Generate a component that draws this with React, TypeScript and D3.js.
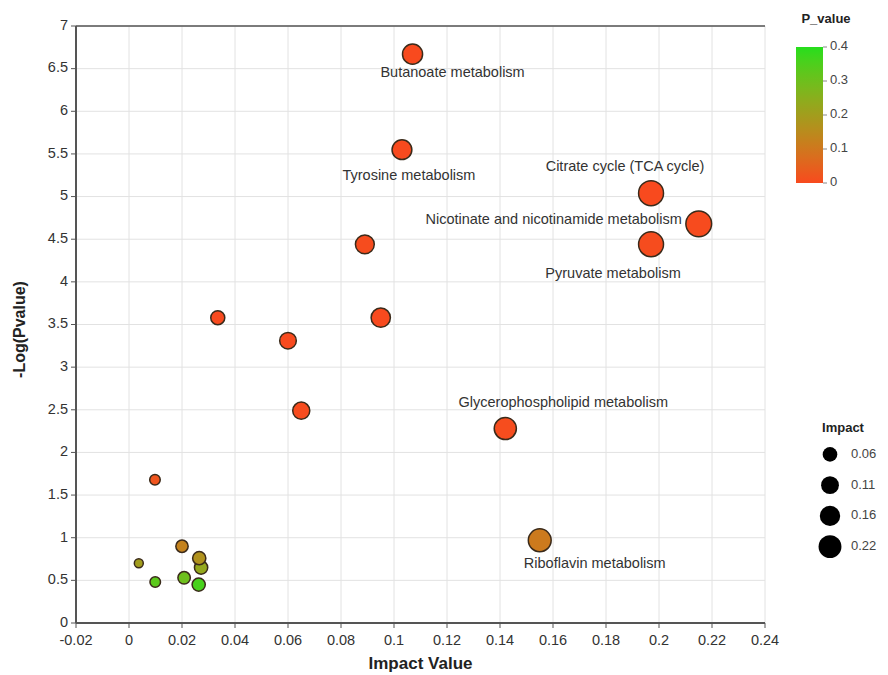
import * as d3 from 'd3';

// pathway labels (empty = unlabeled point)
const pathways = [
  'Butanoate metabolism',
  'Tyrosine metabolism',
  'Citrate cycle (TCA cycle)',
  'Nicotinate and nicotinamide metabolism',
  'Pyruvate metabolism',
  '', '', '', '', '',
  'Glycerophospholipid metabolism',
  'Riboflavin metabolism',
  '', '', '', '', '', '', '', ''
];
const impactValues = [
  0.107, 0.103, 0.197, 0.215, 0.197, 0.089, 0.095, 0.0335, 0.060, 0.065,
  0.142, 0.155, 0.0098, 0.0200, 0.0037, 0.0265, 0.0272, 0.0099, 0.0208, 0.0263
];
const negLogP = [
  6.67, 5.55, 5.04, 4.68, 4.44, 4.44, 3.58, 3.58, 3.31, 2.49,
  2.28, 0.97, 1.68, 0.90, 0.70, 0.76, 0.65, 0.48, 0.53, 0.45
];
const pValues = [
  0.0002, 0.0003, 0.0009, 0.002, 0.004, 0.004, 0.0003, 0.0003, 0.0005, 0.003,
  0.005, 0.107, 0.021, 0.126, 0.20, 0.17, 0.23, 0.33, 0.30, 0.36
];
// label placement relative to its point (style only)
const labelOffsets: Record<string, [number, number, string]> = {
  'Butanoate metabolism': [40, 19, 'middle'],
  'Tyrosine metabolism': [7, 27, 'middle'],
  'Citrate cycle (TCA cycle)': [-26, -26, 'middle'],
  'Nicotinate and nicotinamide metabolism': [-17, -4, 'end'],
  'Pyruvate metabolism': [-38, 30, 'middle'],
  'Glycerophospholipid metabolism': [58, -25, 'middle'],
  'Riboflavin metabolism': [55, 24, 'middle'],
};

const xTicks = d3.range(-0.02, 0.2401, 0.02).map(v => +v.toFixed(2));
const yTicks = d3.range(0, 7.01, 0.5).map(v => +v.toFixed(1));
const pTicks = [0, 0.1, 0.2, 0.3, 0.4];
const impactLegend = [0.06, 0.11, 0.16, 0.22];

const FONT = '"Liberation Sans", Arial, sans-serif';

export default function App() {
  const margin = { left: 76, top: 26, right: 765, bottom: 623 };

  const x = d3.scaleLinear().domain([-0.02, 0.24]).range([margin.left, margin.right]);
  const y = d3.scaleLinear().domain([0, 7]).range([margin.bottom, margin.top]);
  const r = d3.scaleSqrt().domain([0, 0.22]).range([3.2, 13]);
  const color = d3.scaleLinear<string>()
    .domain([0, 0.4])
    .range(['#f84a1e', '#26de1c'])
    .interpolate(d3.interpolateRgb.gamma(1.5))
    .clamp(true);

  const points = impactValues.map((v, i) => ({
    name: pathways[i], x: v, y: negLogP[i], p: pValues[i],
  }));
  // larger circles behind smaller
  const ordered = [...points].sort((a, b) => b.x - a.x);

  // colour bar
  const cb = { x: 796, w: 27, top: 47, bottom: 183 };
  const pScale = d3.scaleLinear().domain([0, 0.4]).range([cb.bottom, cb.top]);
  const stops = d3.range(0, 1.0001, 0.1);

  const legY = d3.scaleBand<number>().domain(impactLegend).range([439, 562]);

  return (
    <svg width={888} height={675} style={{ position: 'absolute', left: 0, top: 0, background: '#fff' }} fontFamily={FONT}>
      <defs>
        <linearGradient id="pgrad" x1="0" y1="1" x2="0" y2="0">
          {stops.map(s => (
            <stop key={s} offset={s} stopColor={color(s * 0.4)} />
          ))}
        </linearGradient>
      </defs>

      {/* grid */}
      {xTicks.map(t => (
        <line key={'gx' + t} x1={x(t)} x2={x(t)} y1={margin.top} y2={margin.bottom} stroke="#e2e2e2" strokeWidth={1} />
      ))}
      {yTicks.map(t => (
        <line key={'gy' + t} x1={margin.left} x2={margin.right} y1={y(t)} y2={y(t)} stroke="#e2e2e2" strokeWidth={1} />
      ))}
      <line x1={margin.left} x2={margin.right} y1={margin.top} y2={margin.top} stroke="#555" strokeWidth={1.5} />

      {/* axes */}
      <line x1={margin.left} x2={margin.left} y1={margin.top} y2={margin.bottom} stroke="#555" strokeWidth={2} />
      <line x1={margin.left} x2={margin.right} y1={margin.bottom} y2={margin.bottom} stroke="#555" strokeWidth={2} />
      {xTicks.map(t => (
        <g key={'xt' + t}>
          <line x1={x(t)} x2={x(t)} y1={margin.bottom} y2={margin.bottom + 5} stroke="#555" />
          <text x={x(t)} y={margin.bottom + 22} textAnchor="middle" fontSize={14.5} fill="#333">{t}</text>
        </g>
      ))}
      {yTicks.map(t => (
        <g key={'yt' + t}>
          <line x1={margin.left - 5} x2={margin.left} y1={y(t)} y2={y(t)} stroke="#555" />
          <text x={margin.left - 8} y={y(t)} textAnchor="end" dominantBaseline="middle" fontSize={14.5} fill="#333">{t}</text>
        </g>
      ))}
      <text x={(margin.left + margin.right) / 2} y={669} textAnchor="middle" fontSize={17} fontWeight="bold" fill="#222">Impact Value</text>
      <text transform={`translate(25,${(margin.top + margin.bottom) / 2 + 5}) rotate(-90)`} textAnchor="middle" fontSize={16} fontWeight="bold" fill="#222">-Log(Pvalue)</text>

      {/* points */}
      {ordered.map((d, i) => (
        <circle key={'pt' + i} cx={x(d.x)} cy={y(d.y)} r={r(d.x)} fill={color(d.p)} stroke="#3a2a1a" strokeWidth={1.5} />
      ))}
      {points.filter(d => d.name).map(d => {
        const [dx, dy, anchor] = labelOffsets[d.name];
        return (
          <text key={d.name} x={x(d.x) + dx} y={y(d.y) + dy} textAnchor={anchor as any} dominantBaseline="middle" fontSize={14.5} fill="#333">{d.name}</text>
        );
      })}

      {/* P_value colour legend */}
      <text x={cb.x + 30} y={23} textAnchor="middle" fontSize={13} fontWeight="bold" fill="#222">P_value</text>
      <rect x={cb.x} y={cb.top} width={cb.w} height={cb.bottom - cb.top} fill="url(#pgrad)" />
      {pTicks.map(t => (
        <g key={'pt' + t}>
          <line x1={cb.x + cb.w} x2={cb.x + cb.w + 4} y1={pScale(t)} y2={pScale(t)} stroke="#888" />
          <text x={cb.x + cb.w + 7} y={pScale(t)} dominantBaseline="middle" fontSize={13} fill="#444">{t}</text>
        </g>
      ))}

      {/* Impact size legend */}
      <text x={843} y={432} textAnchor="middle" fontSize={13} fontWeight="bold" fill="#222">Impact</text>
      {impactLegend.map(v => {
        const cy = legY(v)! + legY.bandwidth() / 2;
        return (
          <g key={'il' + v}>
            <circle cx={830} cy={cy} r={r(v) * 0.88} fill="#000" />
            <text x={851} y={cy} dominantBaseline="middle" fontSize={13} fill="#444">{v}</text>
          </g>
        );
      })}
    </svg>
  );
}
